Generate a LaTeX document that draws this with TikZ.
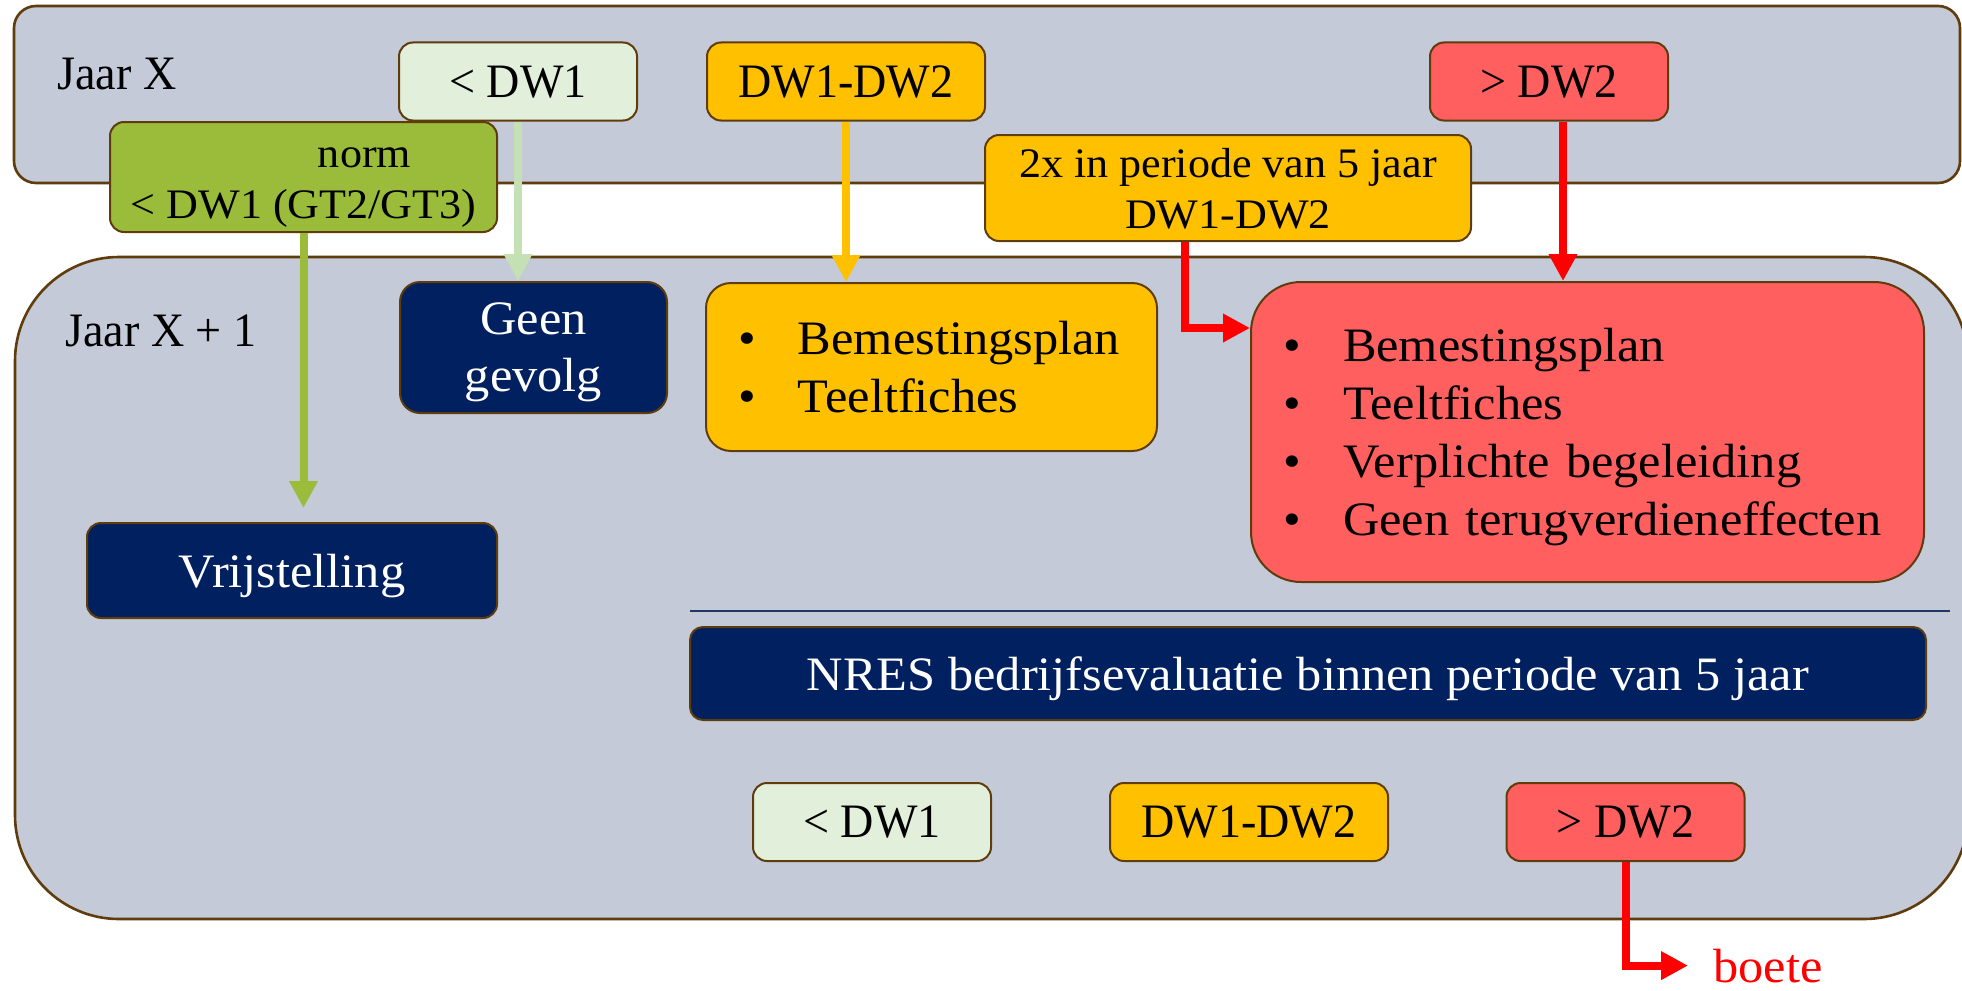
\documentclass[tikz,border=0pt]{standalone}
\usepackage{fontspec}
\setmainfont{Liberation Serif}[FakeStretch=1.05]
\newfontfamily\dwfont{Liberation Serif}[FakeStretch=0.96]
\usepackage{tikz}
\usetikzlibrary{arrows.meta}

\definecolor{panelbg}{HTML}{C5CAD9}
\definecolor{rim}{HTML}{5E3C0C}
\definecolor{navy}{HTML}{002060}
\definecolor{paleg}{HTML}{E2EFDA}
\definecolor{leaf}{HTML}{9BBB3B}
\definecolor{amber}{HTML}{FFC000}
\definecolor{coral}{HTML}{FF5F5F}
\definecolor{mint}{HTML}{C5E0B4}
\definecolor{alarm}{HTML}{FF0000}
\definecolor{sepblue}{HTML}{1F3864}

\newcommand{\bigfont}{\fontsize{24}{29}\selectfont}
\newcommand{\smallfont}{\fontsize{21}{25.5}\selectfont}
\newcommand{\itm}[1]{\makebox[30pt][l]{\textbullet}#1}

\begin{document}
\begin{tikzpicture}[x=0.5pt, y=-0.5pt,
      panel/.style={draw=rim, fill=panelbg, line width=1.3pt},
      box/.style={draw=rim, line width=1pt, rounded corners=7pt, inner sep=0pt,
        align=center, font=\bigfont},
      dwbox/.style={box, text depth=0pt, font=\bigfont\dwfont, minimum height=39pt},
      lowbox/.style={dwbox, fill=paleg, minimum width=119pt},
      midbox/.style={dwbox, fill=amber, minimum width=139pt},
      highbox/.style={dwbox, fill=coral, minimum width=119pt},
      darkbox/.style={box, fill=navy, text=white, text depth=0pt},
      listbox/.style={box, align=left, inner xsep=16pt},
      arr/.style={line width=4pt, -{Triangle[width=13.5pt,length=13.5pt]}}]

      \useasboundingbox (0,0) rectangle (1962,990);

      % the two years
      \draw[panel, rounded corners=11pt] (14,6) rectangle (1960,183);
      \draw[panel, rounded corners=52pt] (15,257) rectangle (1968,919);
      \node[anchor=base west, inner sep=0pt, font=\bigfont\dwfont] (jaarx) at (57,90) {Jaar X};
      \node[anchor=base west, inner sep=0pt, font=\bigfont\dwfont] (jaarnext) at (65,346) {Jaar X + 1};

      % measurements in year X and at the evaluation
      \foreach \x/\al/\st/\lab in {%
        518/jxlow/lowbox/{< DW1},%
        846/jxmid/midbox/DW1-DW2,%
        1549/jxhigh/highbox/{> DW2}%
      }{ \node[\st] (\al) at (\x,81.5) {\lab}; }
      \foreach \x/\al/\st/\lab in {%
        872/evlow/lowbox/{< DW1},%
        1249/evmid/midbox/DW1-DW2,%
        1625.5/evhigh/highbox/{> DW2}%
      }{ \node[\st] (\al) at (\x,822) {\lab}; }

      \node[box, fill=leaf, minimum width=193.5pt, minimum height=55pt,
        text height=41pt, text depth=0pt, font=\smallfont] (jxnorm) at (303.5,177)
        {\hspace*{61pt}norm\\< DW1 (GT2/GT3)};
      \node[box, fill=amber, minimum width=243pt, minimum height=53pt,
        text depth=0pt, font=\smallfont] (jxtwice) at (1228,188)
        {2x in periode van 5 jaar\\DW1-DW2};

      % consequences in year X + 1
      \node[darkbox, rounded corners=10pt, minimum width=133.5pt, minimum height=65.5pt,
        font=\fontsize{24}{28.5}\selectfont] (geen) at (533.5,347.5) {Geen\\gevolg};
      \node[darkbox, minimum width=205pt, minimum height=47.5pt] (vrij) at (292,570.5) {Vrijstelling};
      \node[listbox, fill=amber, rounded corners=12.5pt, text width=193.5pt,
        minimum height=84pt, text depth=29pt] (midlist) at (931.5,367)
        {\itm{Bemestingsplan}\\\itm{Teeltfiches}};
      \node[listbox, fill=coral, rounded corners=25pt, text width=304.5pt,
        minimum height=150pt, text depth=87pt] (highlist) at (1587.5,432)
        {\itm{Bemestingsplan}\\\itm{Teeltfiches}\\\itm{Verplichte begeleiding}\\\itm{Geen terugverdieneffecten}};

      \draw[sepblue, line width=0.8pt] (690,611) -- (1950,611);
      \node[darkbox, rounded corners=6.5pt, minimum width=618pt, minimum height=46.5pt]
        (nres) at (1308,673.5) {NRES bedrijfsevaluatie binnen periode van 5 jaar};

      \node[anchor=base west, inner sep=0pt, font=\bigfont, text=alarm] (boete) at (1713,982) {boete};

      % arrows
      \foreach \from/\to/\col in {%
        jxlow/geen/mint, jxmid/midlist/amber%
      }{ \draw[arr, \col] (\from.south) -- (\from.south |- \to.north); }
      \draw[arr, leaf, shorten >=7pt] (jxnorm.south) -- (jxnorm.south |- vrij.north);
      \draw[arr, alarm] ([xshift=7pt]jxhigh.south) -- ([xshift=7pt]jxhigh.south |- highlist.north);
      \draw[arr, alarm] ([xshift=-21.5pt]jxtwice.south) |- ([yshift=52pt]highlist.west);
      \draw[arr, alarm, shorten >=12.5pt] (evhigh.south) |- (boete.west);
    \end{tikzpicture}
\end{document}
